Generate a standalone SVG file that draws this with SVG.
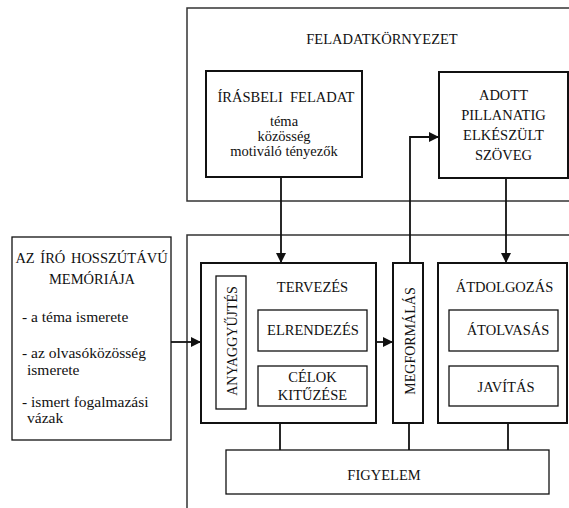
<svg xmlns="http://www.w3.org/2000/svg" width="569" height="508" viewBox="0 0 569 508">
<defs>
<style>
text{font-family:"Liberation Serif","Times New Roman",serif;font-size:14.5px;fill:#111}
.c{text-anchor:middle}
.li{font-size:15.5px}
.outer{fill:none;stroke:#333;stroke-width:1.5}
.thick{fill:#fff;stroke:#111;stroke-width:2}
.thin{fill:#fff;stroke:#111;stroke-width:1.3}
.con{fill:none;stroke:#111;stroke-width:1.8}
</style>
<marker id="ah" viewBox="0 0 10 10" refX="10" refY="5" markerWidth="10" markerHeight="10" markerUnits="userSpaceOnUse" orient="auto">
<path d="M0,0 L10,5 L0,10 Z" fill="#111"/>
</marker>
</defs>
<rect width="569" height="508" fill="#fff"/>
<g id="feladatkornyezet">
<rect class="outer" x="187" y="8" width="400" height="193"/>
<text class="c" x="382" y="44">FELADATKÖRNYEZET</text>
</g>
<g id="folyamat">
<rect class="outer" x="187" y="235" width="400" height="300"/>
</g>
<g id="connectors">
<path class="con" d="M281,177 V263" marker-end="url(#ah)"/>
<path class="con" d="M506,178 V263" marker-end="url(#ah)"/>
<path class="con" d="M410,263 V137 H439" marker-end="url(#ah)"/>
<path class="con" d="M171,342 H201" marker-end="url(#ah)"/>
<path class="con" d="M376,342 H393" marker-end="url(#ah)"/>
<path class="con" d="M280,423 V450"/>
<path class="con" d="M409,423 V450"/>
<path class="con" d="M508,423 V450"/>
</g>
<g id="irasbeli">
<rect class="thick" x="206" y="71" width="156" height="106"/>
<text class="c" x="286" y="102" xml:space="preserve">ÍRÁSBELI  FELADAT</text>
<text class="c" x="284" y="126">téma</text>
<text class="c" x="284" y="141">közösség</text>
<text class="c" x="284" y="156">motiváló tényezők</text>
</g>
<g id="adott">
<rect class="thick" x="439" y="72" width="129" height="106"/>
<text class="c" x="503.5" y="100">ADOTT</text>
<text class="c" x="503.5" y="120">PILLANATIG</text>
<text class="c" x="503.5" y="140">ELKÉSZÜLT</text>
<text class="c" x="503.5" y="160">SZÖVEG</text>
</g>
<g id="memoria">
<rect class="thin" x="12" y="237" width="159" height="203"/>
<text class="c" x="91.5" y="263" style="word-spacing:2px">AZ ÍRÓ HOSSZÚTÁVÚ</text>
<text class="c" x="92" y="284">MEMÓRIÁJA</text>
<text class="li" x="22" y="322">- a téma ismerete</text>
<text class="li" x="22" y="358">- az olvasóközösség</text>
<text class="li" x="27" y="375">ismerete</text>
<text class="li" x="22" y="407">- ismert fogalmazási</text>
<text class="li" x="27" y="423">vázak</text>
</g>
<g id="tervezes">
<rect class="thick" x="201" y="263" width="175" height="160"/>
<text class="c" x="312.5" y="292">TERVEZÉS</text>
</g>
<g id="anyaggyujtes">
<rect class="thin" x="216" y="276" width="30" height="133"/>
<text class="c" transform="translate(236.5,341) rotate(-90)" x="0" y="0" style="font-size:14px">ANYAGGYŰJTÉS</text>
</g>
<g id="elrendezes">
<rect class="thin" x="258" y="310" width="109" height="41"/>
<text class="c" x="313" y="335">ELRENDEZÉS</text>
</g>
<g id="celok">
<rect class="thin" x="258" y="366" width="109" height="40"/>
<text class="c" x="312.5" y="382">CÉLOK</text>
<text class="c" x="312.5" y="400">KITŰZÉSE</text>
</g>
<g id="megformalas">
<rect class="thick" x="393" y="263" width="30" height="160"/>
<text class="c" transform="translate(415,341) rotate(-90)" x="0" y="0" style="font-size:14px">MEGFORMÁLÁS</text>
</g>
<g id="atdolgozas">
<rect class="thick" x="438" y="263" width="129" height="160"/>
<text class="c" x="504.5" y="292">ÁTDOLGOZÁS</text>
</g>
<g id="atolvasas">
<rect class="thin" x="449" y="310" width="109" height="41"/>
<text class="c" x="508" y="335">ÁTOLVASÁS</text>
</g>
<g id="javitas">
<rect class="thin" x="449" y="366" width="109" height="40"/>
<text class="c" x="506" y="392">JAVÍTÁS</text>
</g>
<g id="figyelem">
<rect class="thin" x="226" y="450" width="323" height="44"/>
<text class="c" x="384" y="480">FIGYELEM</text>
</g>
</svg>
